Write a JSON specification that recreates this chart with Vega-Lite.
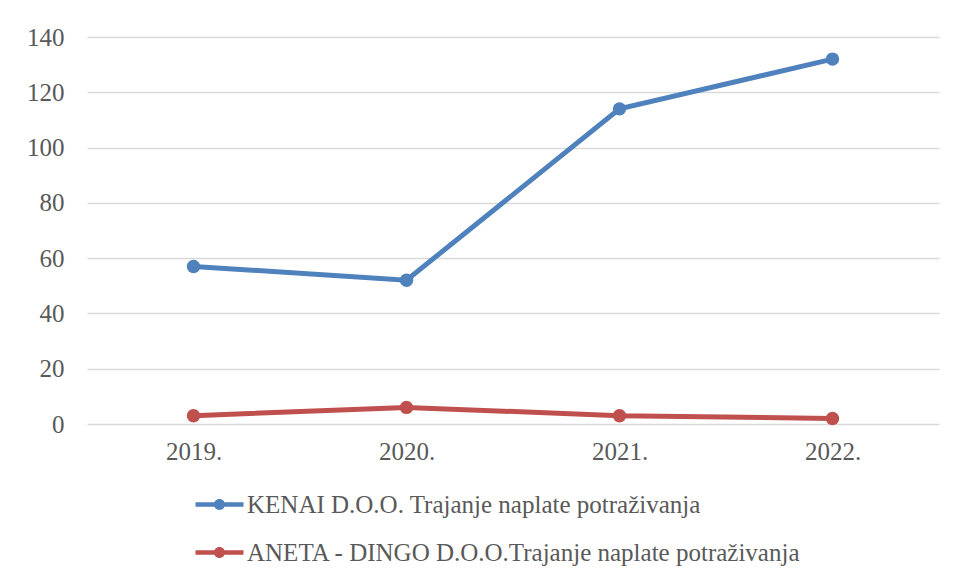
{
  "$schema": "https://vega.github.io/schema/vega-lite/v6.json",
  "autosize": "none",
  "width": 852,
  "height": 387,
  "padding": {"left": 87, "top": 37, "right": 16, "bottom": 156},
  "background": "white",
  "config": {
    "view": {"stroke": null},
    "font": "Liberation Serif"
  },
  "data": {
    "values": [
      {"year": "2019.", "series": "KENAI D.O.O. Trajanje naplate potraživanja", "value": 57},
      {"year": "2020.", "series": "KENAI D.O.O. Trajanje naplate potraživanja", "value": 52},
      {"year": "2021.", "series": "KENAI D.O.O. Trajanje naplate potraživanja", "value": 114},
      {"year": "2022.", "series": "KENAI D.O.O. Trajanje naplate potraživanja", "value": 132},
      {"year": "2019.", "series": "ANETA - DINGO D.O.O.Trajanje naplate potraživanja", "value": 3},
      {"year": "2020.", "series": "ANETA - DINGO D.O.O.Trajanje naplate potraživanja", "value": 6},
      {"year": "2021.", "series": "ANETA - DINGO D.O.O.Trajanje naplate potraživanja", "value": 3},
      {"year": "2022.", "series": "ANETA - DINGO D.O.O.Trajanje naplate potraživanja", "value": 2}
    ]
  },
  "mark": {"type": "line", "strokeWidth": 5, "point": {"filled": true, "size": 180, "opacity": 1}},
  "encoding": {
    "x": {
      "field": "year", "type": "ordinal",
      "scale": {"type": "point", "padding": 0.5},
      "axis": {"title": null, "labelAngle": 0, "domain": false, "ticks": false, "grid": false,
               "labelFontSize": 25, "labelColor": "#595959", "labelPadding": 15, "labelFont": "Liberation Serif"}
    },
    "y": {
      "field": "value", "type": "quantitative",
      "scale": {"domain": [0, 140], "nice": false},
      "axis": {"title": null, "values": [0, 20, 40, 60, 80, 100, 120, 140], "domain": false, "ticks": false,
               "gridColor": "#d9d9d9", "gridWidth": 1.5, "labelFontSize": 25, "labelColor": "#595959",
               "labelPadding": 23, "labelFont": "Liberation Serif"}
    },
    "color": {
      "field": "series", "type": "nominal",
      "scale": {
        "domain": ["KENAI D.O.O. Trajanje naplate potraživanja", "ANETA - DINGO D.O.O.Trajanje naplate potraživanja"],
        "range": ["#4F81BD", "#C0504D"]
      },
      "legend": {
        "title": null, "orient": "none", "legendX": 120, "legendY": 455, "direction": "vertical",
        "padding": 0, "rowPadding": 22, "labelFontSize": 25, "labelColor": "#595959", "labelFont": "Liberation Serif",
        "labelOffset": 15, "labelLimit": 800, "symbolSize": 400,
        "symbolType": "M-2.4,-0.23H2.4V0.23H-2.4Z M-0.55,0A0.55,0.55 0 1,1 0.55,0A0.55,0.55 0 1,1 -0.55,0Z",
        "encode": {"symbols": {"update": {"fill": {"scale": "color", "field": "value"}, "stroke": {"value": "transparent"}, "strokeWidth": {"value": 0}, "opacity": {"value": 1}}}}
      }
    }
  }
}
